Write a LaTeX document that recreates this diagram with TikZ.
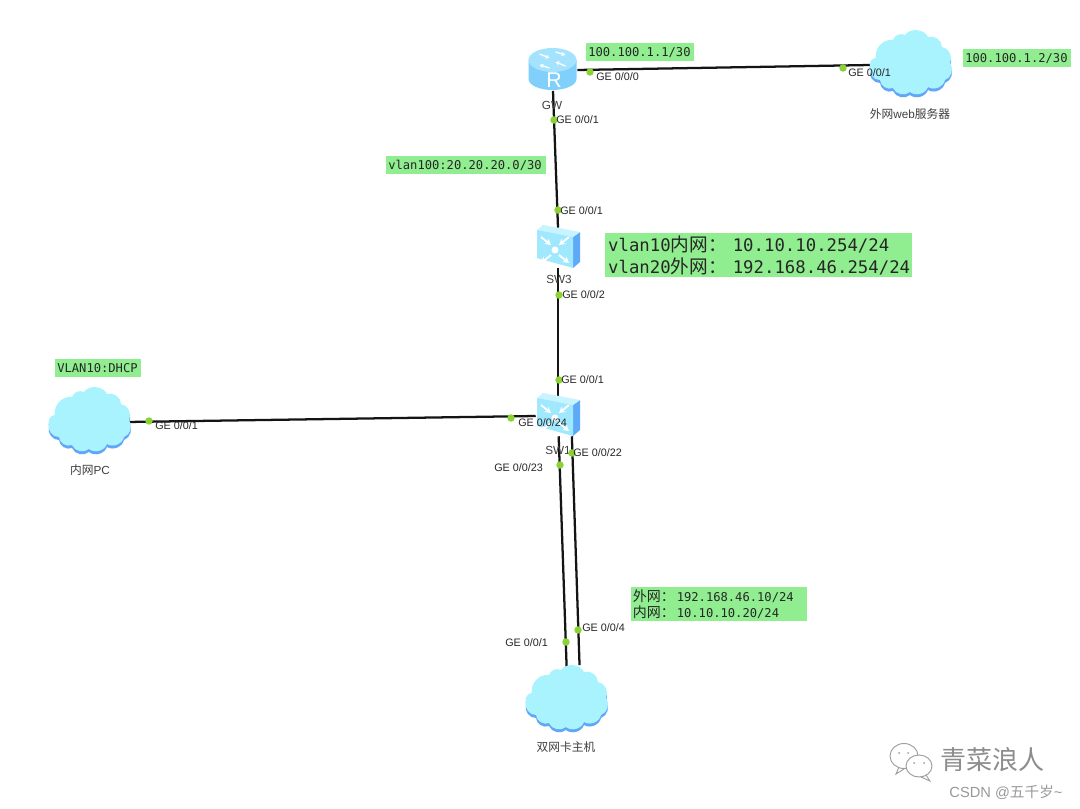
\documentclass[tikz,border=0pt]{standalone}
\usepackage{fontspec}
\setmainfont{Liberation Sans}
\setmonofont{DejaVu Sans Mono}
\newfontfamily\cjk{Noto Sans CJK SC}
\usetikzlibrary{arrows.meta}
\definecolor{lbl}{HTML}{90EE90}
\definecolor{cloudtop}{HTML}{A9F3FF}
\definecolor{cloudbot}{HTML}{62A6F8}
\definecolor{swfront}{HTML}{9FE8FD}
\definecolor{swtop}{HTML}{C8F4FF}
\definecolor{swside}{HTML}{5FAAF8}
\definecolor{rtbody}{HTML}{80D0FB}
\definecolor{rttop}{HTML}{A4E3FD}
\definecolor{dot}{HTML}{8CD235}
\newcommand{\cloudshape}[3]{%
  \begin{scope}[shift={(#1,#2)}]
  \fill[#3] (-35,-7) to[bend left=55] (-18,-25) to[bend left=50] (-6,-30)
    to[bend left=60] (17,-28) to[bend left=55] (31,-18) to[bend left=55] (39,-2)
    to[bend left=55] (34,15) to[bend left=55] (17,22) to[bend left=55] (-1,27)
    to[bend left=55] (-18,23) to[bend left=55] (-31,15) to[bend left=55] (-41,2)
    to[bend left=55] cycle;
  \end{scope}}
\newcommand{\cloudicon}[2]{%
  \cloudshape{#1}{#2+3}{cloudbot}%
  \cloudshape{#1}{#2}{cloudtop}}
\newcommand{\swarrows}[2]{%
  \begin{scope}[shift={(#1,#2)},white,line width=1.4pt,-{Stealth[length=4.5pt,width=5pt]}]
    \draw (-14,-13) -- (-4,-5);
    \draw (14,-13) -- (4,-5);
    \draw (-4,5) -- (-14,13);
    \draw (4,5) -- (14,13);
    \fill[white] (0,0) circle[radius=3.5];
  \end{scope}}
\newcommand{\swicon}[2]{%
  \begin{scope}[shift={(#1,#2)}]
    \fill[swside] (15,-11) -- (22,-16) -- (22,14) -- (15,20) -- cycle;
    \fill[swtop] (-21,-18) -- (-15,-23) -- (22,-16) -- (15,-11) -- cycle;
    \fill[swfront] (-21,-18) -- (15,-11) -- (15,20) -- (-21,10) -- cycle;
  \end{scope}}
\tikzset{
  x=0.75pt,y=-0.75pt,
  link/.style={line width=1.7pt,black!92},
  port/.style={circle,fill=dot,inner sep=0pt,minimum size=5.6pt},
  portlabel/.style={font=\fontsize{8.1}{9}\selectfont,text=black!85,inner sep=0pt,anchor=west},
  devlabel/.style={font=\fontsize{8.8}{10}\selectfont,text=black!75,inner sep=0pt},
  note/.style={fill=lbl,text=black!85,inner sep=0pt,anchor=north west,align=left},
  smallnote/.style={note,font=\ttfamily\fontsize{9.1}{10}\selectfont},
}
\newcommand{\bigcjk}[1]{{\fontsize{14}{16}\selectfont\cjk #1}\hspace{4.5pt}}
\newcommand{\smallcjk}[1]{{\fontsize{10.5}{12}\selectfont\cjk #1}\hspace{1.5pt}}
\begin{document}
\begin{tikzpicture}
\useasboundingbox (0,0) rectangle (1080,809);
\fill[white] (0,0) rectangle (1080,809);
% anchors
\node[inner sep=0pt,minimum width=36pt,minimum height=31pt] (GW) at (553,70) {};
\node[inner sep=0pt,minimum width=33pt,minimum height=30pt] (SW3) at (558,248) {};
\node[inner sep=0pt,minimum width=33pt,minimum height=30pt] (SW1) at (558,416) {};
\node[inner sep=0pt,minimum width=60pt,minimum height=50pt] (web) at (911,65) {};
\node[inner sep=0pt,minimum width=55pt,minimum height=50pt] (pc) at (90,422) {};
\node[inner sep=0pt,minimum width=60pt,minimum height=50pt] (host) at (567,700) {};
% connectors
\draw[link] (GW.east) -- (web.west);
\draw[link] (GW.south) -- (SW3.north);
\draw[link] (SW3.south) -- (SW1.north);
\draw[link] (pc.east) -- (SW1.west);
\draw[link] ([xshift=0.5pt]SW1.south) -- ([xshift=-0.2pt,yshift=-3pt]host.north);
\draw[link] ([xshift=10.4pt]SW1.south) -- ([xshift=9.4pt,yshift=1pt]host.north);
% icons
\fill[rtbody] (528.5,60) -- (528.5,79) arc[start angle=180,end angle=0,x radius=24,y radius=11] -- (576.5,60) -- cycle;
\fill[rttop] (552.5,60) ellipse[x radius=24,y radius=12];
\begin{scope}[shift={(552.5,60)},white,line width=1pt,-{Stealth[length=3pt,width=3.5pt]}]
  \draw (-13,-6) -- (-3,-2);
  \draw (3,-8) -- (13,-5);
  \draw (13,6) -- (3,2);
  \draw (-3,8) -- (-13,5);
\end{scope}
\node[text=white,font=\fontsize{16}{16}\selectfont,inner sep=0pt] (Rmark) at (554,80) {R};
\swicon{558}{248}\swarrows{555}{250}
\swicon{558}{416}\swarrows{555}{418}
\cloudicon{911}{65}
\cloudicon{90}{422}
\cloudicon{567}{700}
% device names
\node[devlabel] (lGW) at (552,105) {GW};
\node[devlabel] (lSW3) at (559,279) {SW3};
\node[devlabel] (lSW1) at (558,450) {SW1};
\node[devlabel] (lweb) at (910,114) {\cjk 外网\rmfamily web\cjk 服务器};
\node[devlabel] (lpc) at (90,470) {\cjk 内网\rmfamily PC};
\node[devlabel] (lhost) at (566,747) {\cjk 双网卡主机};
% ports
\node[port] (p1) at (590,72) {};
\node[port] (p2) at (843,68) {};
\node[port] (p3) at (554,120) {};
\node[port] (p4) at (558,210) {};
\node[port] (p5) at (559,295) {};
\node[port] (p6) at (559,380) {};
\node[port] (p7) at (149,421) {};
\node[port] (p8) at (511,418) {};
\node[port] (p9) at (560,465) {};
\node[port] (p10) at (572,453) {};
\node[port] (p11) at (566,642) {};
\node[port] (p12) at (578,630) {};
\node[portlabel] at (596,77) {GE 0/0/0};
\node[portlabel] at (848,73) {GE 0/0/1};
\node[portlabel] at (556,120) {GE 0/0/1};
\node[portlabel] at (560,211) {GE 0/0/1};
\node[portlabel] at (562,295) {GE 0/0/2};
\node[portlabel] at (561,380) {GE 0/0/1};
\node[portlabel] at (155,426) {GE 0/0/1};
\node[portlabel] at (518,423) {GE 0/0/24};
\node[portlabel] at (494,468) {GE 0/0/23};
\node[portlabel] at (573,453) {GE 0/0/22};
\node[portlabel] at (505,643) {GE 0/0/1};
\node[portlabel] at (582,628) {GE 0/0/4};
% notes
\node[smallnote,minimum width=81pt,minimum height=13.5pt,text width=81pt] (n1) at (586,43) {\,100.100.1.1/30};
\node[smallnote,minimum width=81pt,minimum height=13.5pt,text width=81pt] (n2) at (963,49) {\,100.100.1.2/30};
\node[smallnote,minimum width=120pt,minimum height=13pt,text width=120pt] (n3) at (386,156) {\,vlan100:20.20.20.0/30};
\node[smallnote,minimum width=64pt,minimum height=13pt,text width=64pt] (n4) at (55,359) {\,VLAN10:DHCP};
\node[note,font=\ttfamily\fontsize{13}{16.3}\selectfont,minimum width=230pt,minimum height=33pt,text width=230pt] (n5) at (605,233) {\,vlan10\bigcjk{内网：}10.10.10.254/24\\\,vlan20\bigcjk{外网：}192.168.46.254/24};
\node[note,font=\ttfamily\fontsize{9.1}{12}\selectfont,minimum width=132pt,minimum height=25pt,text width=132pt] (n6) at (630.5,587) {\,\smallcjk{外网：}192.168.46.10/24\\\,\smallcjk{内网：}10.10.10.20/24};
% watermark
\begin{scope}[black!38,line width=0.7pt]
  \draw (904,756) ellipse[x radius=14,y radius=12.5];
  \draw (899,767) -- (896,774) -- (904,769);
  \draw[fill=white] (919,766) ellipse[x radius=13,y radius=11];
  \draw (926,775) -- (930,781) -- (921,777);
  \fill (899,753) circle[radius=1];
  \fill (908,753) circle[radius=1];
  \fill (914,763) circle[radius=1];
  \fill (924,763) circle[radius=1];
\end{scope}
\node[inner sep=0pt,text=black!45,font=\cjk\fontsize{19.5}{20}\selectfont] (wm) at (992,760) {青菜浪人};
\node[inner sep=0pt,text=black!40,font=\fontsize{11}{12}\selectfont] (csdn) at (1006,792) {CSDN @{\cjk 五千岁}\textasciitilde};
\end{tikzpicture}
\end{document}
